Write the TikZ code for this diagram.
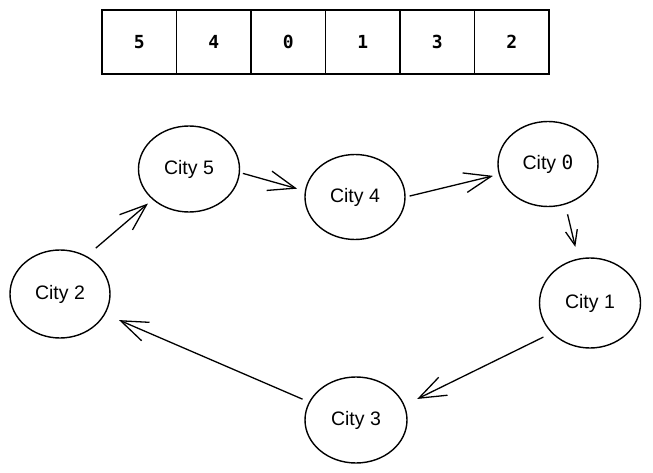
\documentclass[tikz,border=0pt]{standalone}
\usepackage{fontspec}
\setmainfont{Liberation Sans}
\newfontfamily\digitfont{DejaVu Sans Mono}
\usetikzlibrary{shapes.geometric,arrows.meta}
\begin{document}
\begin{tikzpicture}[x=1pt,y=-1pt,
  cell/.style={draw,line width=1.4pt,minimum width=74.5pt,minimum height=64pt,inner sep=0pt,font=\digitfont\bfseries\fontsize{18}{18}\selectfont},
  city/.style={draw,ellipse,line width=1.4pt,inner sep=0pt,font=\fontsize{19.5}{19.5}\selectfont},
  arr/.style={line width=1.3pt,-{Straight Barb[length=27pt,width=20pt,line width=1.3pt]}},
  shortarr/.style={line width=1.3pt,-{Straight Barb[length=15pt,width=12pt,line width=1.3pt]}}]
\useasboundingbox[fill=white] (0,0) rectangle (653,473);
% array
\foreach \v [count=\i from 0] in {5,4,0,1,3,2}{
  \node[cell] (a\i) at ({102+74.5*(\i+0.5)},42) {\v};
}
% cities
\node[city,minimum width=101pt,minimum height=86pt] (c5) at (189,169) {City 5};
\node[city,minimum width=100pt,minimum height=85pt] (c4) at (355,197) {City 4};
\node[city,minimum width=100pt,minimum height=85pt] (c0) at (548,164) {City {\digitfont 0}};
\node[city,minimum width=101pt,minimum height=90pt] (c1) at (590,303) {City 1};
\node[city,minimum width=102pt,minimum height=86pt] (c3) at (356,420) {City 3};
\node[city,minimum width=100pt,minimum height=88pt] (c2) at (60,294) {City 2};
% arrows
\draw[arr,shorten <=12pt,shorten >=6pt] (c2.55) -- (c5.220);
\draw[arr,shorten <=3pt,shorten >=8pt] (c5.-4) -- (c4.173);
\draw[arr,shorten <=4pt,shorten >=6pt] (c4.0) -- (c0.192);
\draw[shortarr,shorten <=10pt,shorten >=12pt] (c0.-67) -- (c1.105);
\draw[arr,shorten <=9pt,shorten >=14pt] (c1.218) -- (c3.17);
\draw[arr,shorten <=7pt,shorten >=15pt] (c3.159) -- (c2.-24);
\end{tikzpicture}
\end{document}
